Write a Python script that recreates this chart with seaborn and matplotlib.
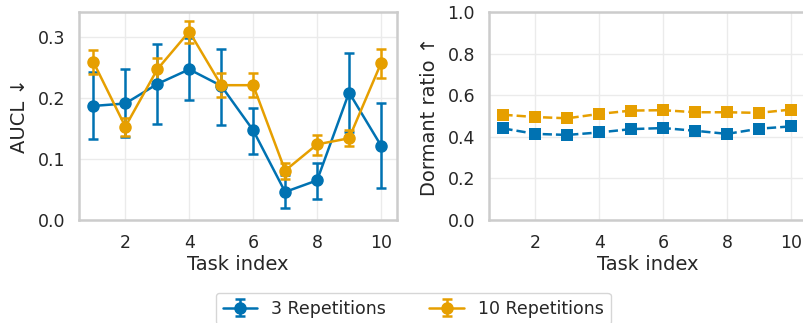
import numpy as np
import pandas as pd
import matplotlib
matplotlib.use("Agg")
import matplotlib.pyplot as plt
import seaborn as sns

tasks = [1, 2, 3, 4, 5, 6, 7, 8, 9, 10]
series_names = ["3 Repetitions", "10 Repetitions"]
colors = ["#0072B2", "#E69F00"]

aucl_3 = [0.187, 0.191, 0.223, 0.247, 0.220, 0.147, 0.046, 0.065, 0.209, 0.122]
aucl_3_lo = [0.132, 0.136, 0.157, 0.196, 0.155, 0.109, 0.019, 0.034, 0.144, 0.053]
aucl_3_hi = [0.242, 0.248, 0.289, 0.298, 0.281, 0.184, 0.073, 0.093, 0.274, 0.191]

aucl_10 = [0.259, 0.153, 0.247, 0.309, 0.221, 0.221, 0.081, 0.124, 0.134, 0.257]
aucl_10_lo = [0.240, 0.137, 0.228, 0.290, 0.202, 0.202, 0.068, 0.107, 0.121, 0.232]
aucl_10_hi = [0.279, 0.168, 0.266, 0.327, 0.241, 0.241, 0.094, 0.140, 0.147, 0.281]

dormant_3 = [0.440, 0.414, 0.409, 0.421, 0.437, 0.442, 0.429, 0.414, 0.439, 0.450]
dormant_10 = [0.506, 0.495, 0.489, 0.510, 0.526, 0.528, 0.518, 0.518, 0.515, 0.531]

sns.set_theme(style="whitegrid")
plt.rcParams['font.family'] = ['DejaVu Sans']
plt.rcParams['axes.edgecolor'] = '#cccccc'
plt.rcParams['grid.color'] = '#ebebeb'

fig = plt.figure(figsize=(8.04, 3.23), dpi=100)
ax1 = fig.add_axes([79/804, 103/323, 318/804, 208/323])
ax2 = fig.add_axes([489/804, 103/323, 318/804, 208/323])

handles = []
for name, c, m, lo, hi in [(series_names[0], colors[0], aucl_3, aucl_3_lo, aucl_3_hi),
                           (series_names[1], colors[1], aucl_10, aucl_10_lo, aucl_10_hi)]:
    m = np.array(m); lo = np.array(lo); hi = np.array(hi)
    h = ax1.errorbar(tasks, m, yerr=[m - lo, hi - m], color=c, marker='o',
                     markersize=8, linewidth=1.8, elinewidth=1.8, capsize=3.5,
                     capthick=1.8, label=name)
    handles.append(h)

df = pd.DataFrame({
    "task": tasks * 2,
    "ratio": dormant_3 + dormant_10,
    "series": [series_names[0]] * 10 + [series_names[1]] * 10,
})
sns.lineplot(data=df, x="task", y="ratio", hue="series", palette=colors,
             hue_order=series_names, marker='s', markersize=8.5, markeredgewidth=0,
             linestyle='--', linewidth=1.8, ax=ax2, legend=False)

for ax in (ax1, ax2):
    ax.set_xlim(0.55, 10.5)
    ax.set_xticks([2, 4, 6, 8, 10])
    ax.set_xlabel("Task index", fontsize=14, labelpad=2)
    ax.tick_params(labelsize=12.5, pad=4)
    for s in ax.spines.values():
        s.set_color('#cccccc')
        s.set_linewidth(1.8)

ax1.set_ylim(0, 0.341)
ax1.set_yticks([0.0, 0.1, 0.2, 0.3])
ax1.set_ylabel("AUCL ↓", fontsize=14, labelpad=6)
ax2.set_ylim(0, 1.0)
ax2.set_yticks([0.0, 0.2, 0.4, 0.6, 0.8, 1.0])
ax2.set_ylabel("Dormant ratio ↑", fontsize=14, labelpad=6)

fig.legend(handles=handles, labels=series_names, loc='upper center',
           bbox_to_anchor=(0.514, 0.12), ncol=2, fontsize=12.5,
           frameon=True, columnspacing=2.5)

fig.savefig("out.png", dpi=100)
